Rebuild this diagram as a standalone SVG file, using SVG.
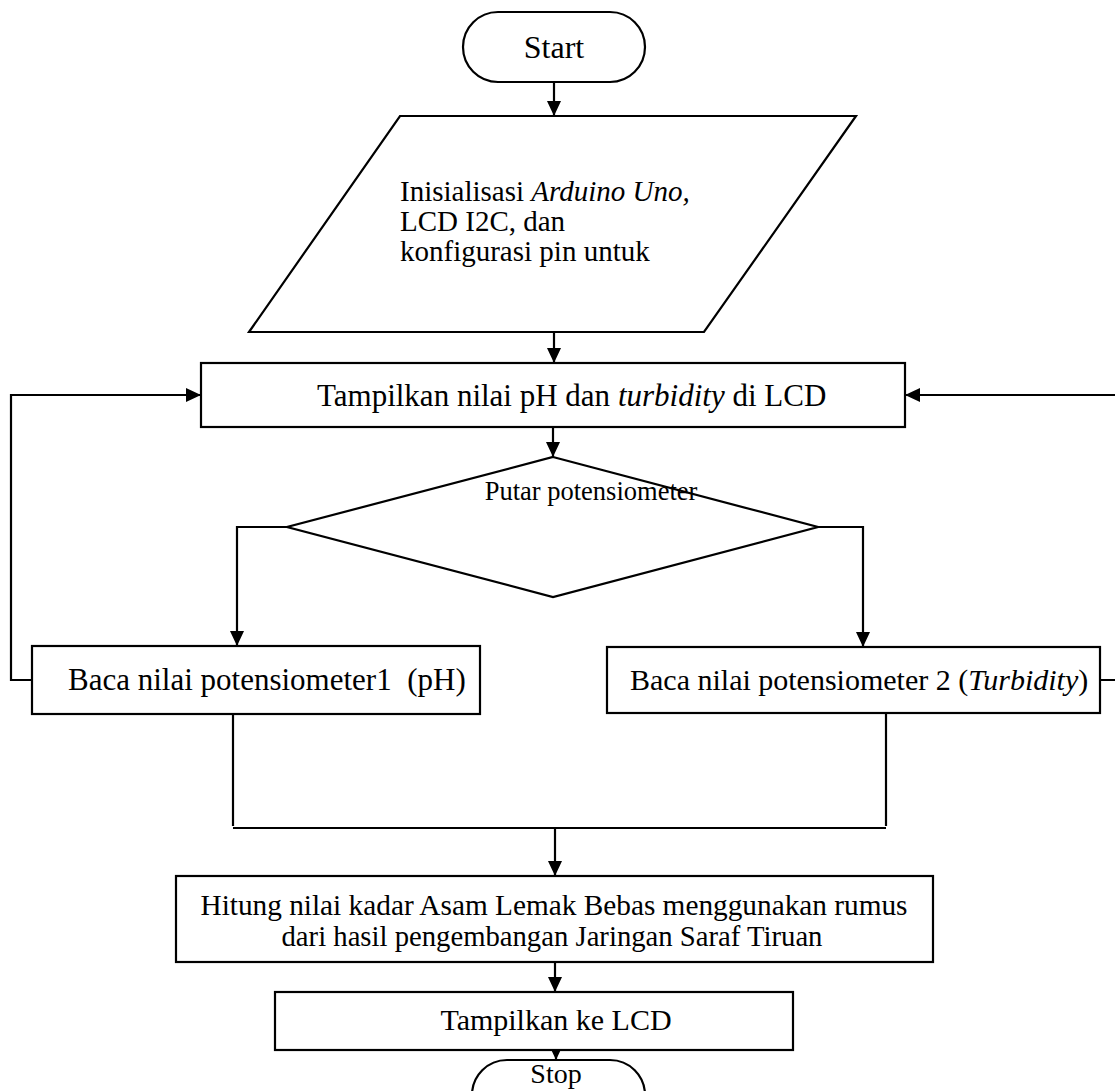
<svg xmlns="http://www.w3.org/2000/svg" width="1115" height="1091" viewBox="0 0 1115 1091">
  <style>
    .shape { fill: #ffffff; stroke: #000000; stroke-width: 2.2; }
    .wire { fill: none; stroke: #000000; stroke-width: 2.2; }
    .label { font-family: "Liberation Serif", "Times New Roman", serif; font-size: 30px; fill: #000000; }
    .mid { text-anchor: middle; }
    .it { font-style: italic; }
  </style>
  <defs>
    <marker id="arrow" markerUnits="userSpaceOnUse" markerWidth="16" markerHeight="14" refX="15" refY="7" orient="auto">
      <path d="M0,0 L15,7 L0,14 Z" fill="#000000"/>
    </marker>
  </defs>
  <rect width="1115" height="1091" fill="#ffffff"/>

  <!-- connectors -->
  <g id="connectors">
    <path class="wire" d="M554,82 V116" marker-end="url(#arrow)"/>
    <path class="wire" d="M554,332 V363" marker-end="url(#arrow)"/>
    <path class="wire" d="M553,427 V457" marker-end="url(#arrow)"/>
    <path class="wire" d="M287,527 H237 V646" marker-end="url(#arrow)"/>
    <path class="wire" d="M818,527 H863 V647" marker-end="url(#arrow)"/>
    <path class="wire" d="M32,680 H11 V395 H201" marker-end="url(#arrow)"/>
    <path class="wire" d="M1100,680 H1118 V395 H905" marker-end="url(#arrow)"/>
    <path class="wire" d="M233,714 V826"/>
    <path class="wire" d="M886,713 V826"/>
    <path class="wire" d="M233,828 H886"/>
    <path class="wire" d="M555,828 V876" marker-end="url(#arrow)"/>
    <path class="wire" d="M555,962 V992" marker-end="url(#arrow)"/>
    <path class="wire" d="M556,1050 V1060" marker-end="url(#arrow)"/>
  </g>

  <g id="start">
    <rect class="shape" x="463" y="12" width="182" height="70" rx="35"/>
    <text class="label mid" x="554" y="58" style="font-size:32px">Start</text>
  </g>

  <g id="init">
    <polygon class="shape" points="400,116 856,116 704,332 249,332"/>
    <text class="label" x="400" y="201" style="font-size:29px">Inisialisasi <tspan class="it">Arduino Uno,</tspan></text>
    <text class="label" x="400" y="231" style="font-size:29px">LCD I2C, dan</text>
    <text class="label" x="400" y="261" style="font-size:29px">konfigurasi pin untuk</text>
  </g>

  <g id="display-values">
    <rect class="shape" x="201" y="363" width="704" height="64"/>
    <text class="label" x="317" y="406" style="font-size:31px">Tampilkan nilai pH dan <tspan class="it">turbidity</tspan> di LCD</text>
  </g>

  <g id="decision">
    <polygon class="shape" points="553,457 818,527 553,597 287,527"/>
    <text class="label mid" x="591" y="500" style="font-size:26.5px">Putar potensiometer</text>
  </g>

  <g id="read-ph">
    <rect class="shape" x="32" y="646" width="448" height="68"/>
    <text class="label" x="68" y="690" style="font-size:31px" xml:space="preserve">Baca nilai potensiometer1  (pH)</text>
  </g>

  <g id="read-turbidity">
    <rect class="shape" x="607" y="647" width="493" height="66"/>
    <text class="label" x="630" y="690">Baca nilai potensiometer 2 (<tspan class="it">Turbidity</tspan>)</text>
  </g>

  <g id="compute">
    <rect class="shape" x="176" y="876" width="757" height="86"/>
    <text class="label mid" x="554" y="915" style="font-size:29.3px">Hitung nilai kadar Asam Lemak Bebas menggunakan rumus</text>
    <text class="label mid" x="552" y="946" style="font-size:28.7px">dari hasil pengembangan Jaringan Saraf Tiruan</text>
  </g>

  <g id="show-result">
    <rect class="shape" x="275" y="992" width="518" height="58"/>
    <text class="label mid" x="556" y="1030">Tampilkan ke LCD</text>
  </g>

  <g id="stop">
    <rect class="shape" x="472" y="1060" width="173" height="70" rx="35"/>
    <text class="label mid" x="556" y="1083" style="font-size:28px">Stop</text>
  </g>
</svg>
